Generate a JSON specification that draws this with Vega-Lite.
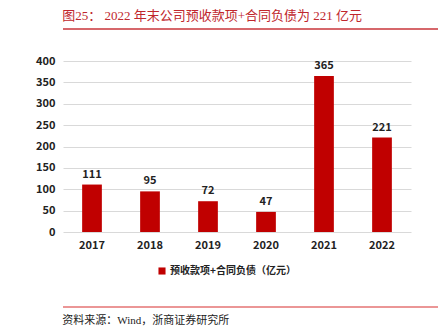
{
  "$schema": "https://vega.github.io/schema/vega-lite/v6.json",
  "padding": {"left": 22, "right": 6, "top": 10, "bottom": 0},
  "background": "white",
  "spacing": 25,
  "config": {"view": {"stroke": null}},
  "resolve": {"legend": {"color": "independent"}, "scale": {"x": "independent", "y": "independent", "color": "independent"}},
  "vconcat": [
    {
      "width": 410,
      "height": 1,
      "title": {"text": "图25：  2022 年末公司预收款项+合同负债为 221 亿元", "anchor": "start", "font": "Liberation Serif, Noto Sans CJK SC", "fontSize": 13, "fontWeight": "normal", "color": "#C0272D", "offset": 5},
      "data": {"values": [{"v": 0}]},
      "mark": {"type": "rule", "color": "#C8353A", "strokeWidth": 1.5},
      "encoding": {
        "y": {"field": "v", "type": "quantitative", "scale": {"domain": [0, 1]}, "axis": null}
      }
    },
    {
      "width": 348,
      "height": 171,
      "data": {"values": [
        {"year": "2017", "value": 111, "series": "预收款项+合同负债（亿元）"},
        {"year": "2018", "value": 95, "series": "预收款项+合同负债（亿元）"},
        {"year": "2019", "value": 72, "series": "预收款项+合同负债（亿元）"},
        {"year": "2020", "value": 47, "series": "预收款项+合同负债（亿元）"},
        {"year": "2021", "value": 365, "series": "预收款项+合同负债（亿元）"},
        {"year": "2022", "value": 221, "series": "预收款项+合同负债（亿元）"}
      ]},
      "encoding": {
        "x": {"field": "year", "type": "nominal", "scale": {"paddingInner": 0.66, "paddingOuter": 0.33}, "axis": {"title": null, "labelAngle": 0, "domain": false, "ticks": false, "labelPadding": 7, "labelFont": "Noto Sans CJK SC", "labelFontWeight": "bold", "labelFontSize": 11, "labelColor": "#222"}},
        "y": {"field": "value", "type": "quantitative", "scale": {"domain": [0, 400]}, "axis": {"title": null, "values": [0, 50, 100, 150, 200, 250, 300, 350, 400], "domain": false, "ticks": false, "labelPadding": 8, "minExtent": 41, "gridColor": "#D9D9D9", "gridWidth": 1, "labelFont": "Noto Sans CJK SC", "labelFontWeight": "bold", "labelFontSize": 11, "labelColor": "#222"}}
      },
      "layer": [
        {
          "mark": {"type": "bar", "color": "#C00000"},
          "encoding": {
            "color": {"field": "series", "type": "nominal", "scale": {"range": ["#C00000"]}, "legend": {"orient": "none", "legendX": 94, "legendY": 205, "direction": "horizontal", "title": null, "symbolType": "square", "symbolSize": 50, "symbolStrokeWidth": 0, "symbolOffset": 0, "labelFont": "Noto Sans CJK SC", "labelFontWeight": "bold", "labelFontSize": 10, "labelColor": "#222", "labelOffset": 3}}
          }
        },
        {
          "mark": {"type": "text", "baseline": "bottom", "dy": -5, "font": "Noto Sans CJK SC", "fontWeight": "bold", "fontSize": 11, "color": "#222"},
          "encoding": {"text": {"field": "value", "type": "quantitative"}}
        }
      ]
    },
    {
      "width": 410,
      "height": 6,
      "title": {"text": "资料来源：Wind，浙商证券研究所", "orient": "bottom", "anchor": "start", "font": "Liberation Serif, Noto Sans CJK SC", "fontSize": 11, "fontWeight": "normal", "color": "#222", "offset": 7},
      "data": {"values": [{"v": 0}]},
      "mark": {"type": "rule", "color": "#E57373", "strokeWidth": 1.5},
      "encoding": {
        "y": {"field": "v", "type": "quantitative", "scale": {"domain": [0, 1]}, "axis": null}
      }
    }
  ]
}
